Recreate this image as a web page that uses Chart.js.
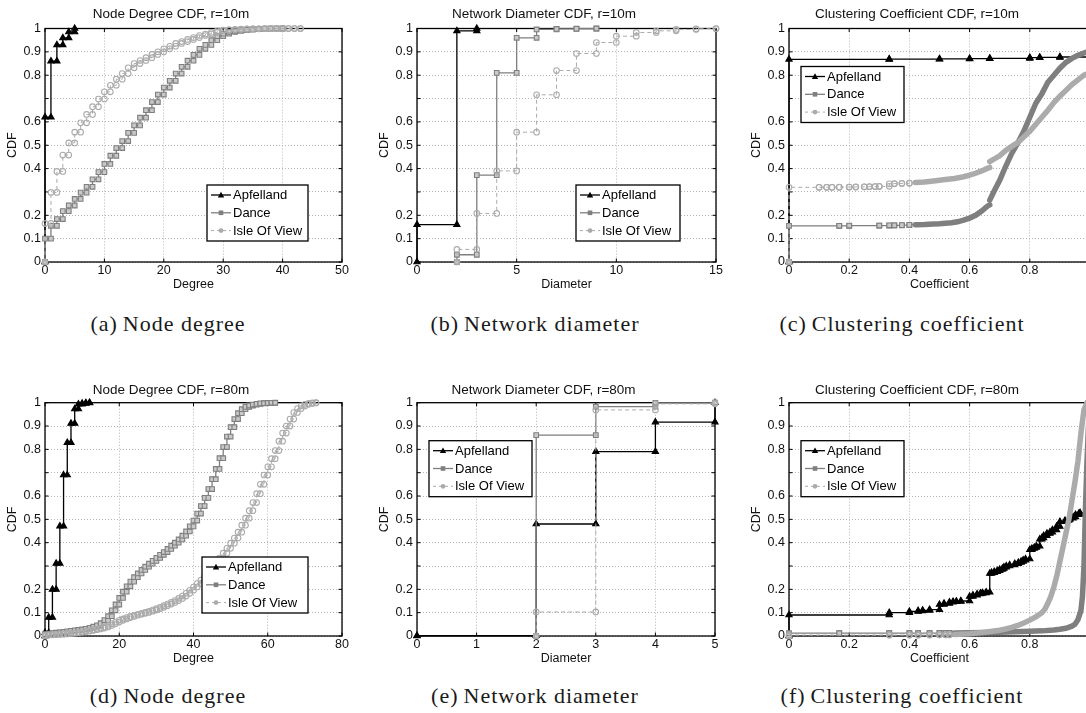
<!DOCTYPE html>
<html>
<head>
<meta charset="utf-8">
<script src="https://cdn.jsdelivr.net/npm/chart.js@4"></script>
<style>
  html, body { margin: 0; padding: 0; background: #fff; overflow: hidden; width: 1086px; height: 713px; }
  .panel { position: absolute; }
  .cap { position: absolute; font-family: 'Liberation Serif', 'Times New Roman', serif; font-size: 22px; color: #1a1a1a;
         white-space: nowrap; transform: translate(-50%, -50%); letter-spacing: 1px; word-spacing: 0px; }
  .cap b { font-weight: normal; margin-right: 5px; }
</style>
</head>
<body>
<div class="cap" style="left:168px; top:324px"><b>(a)</b>Node degree</div>
<div class="cap" style="left:535px; top:324px"><b>(b)</b>Network diameter</div>
<div class="cap" style="left:902px; top:324px"><b>(c)</b>Clustering coefficient</div>
<div class="cap" style="left:168px; top:696px"><b>(d)</b>Node degree</div>
<div class="cap" style="left:535px; top:696px"><b>(e)</b>Network diameter</div>
<div class="cap" style="left:902px; top:696px"><b>(f)</b>Clustering coefficient</div>
<script>
// ---------- Node degree CDF (array index = node degree) ----------
const deg10Apfelland = [0.62, 0.86, 0.93, 0.96, 0.985, 1];
const deg10Dance = [0.1, 0.155, 0.184, 0.218, 0.242, 0.27, 0.297, 0.322, 0.354, 0.385,
  0.42, 0.455, 0.488, 0.518, 0.553, 0.585, 0.618, 0.65, 0.685, 0.717,
  0.747, 0.776, 0.807, 0.836, 0.862, 0.887, 0.913, 0.93, 0.95, 0.967,
  0.978, 0.986, 0.99, 0.993, 0.995, 0.997, 0.998, 0.999, 0.9993, 0.9997, 1];
const deg10Isle = [0.165, 0.298, 0.388, 0.458, 0.51, 0.556, 0.596, 0.632, 0.665, 0.698,
  0.729, 0.757, 0.783, 0.807, 0.832, 0.85, 0.863, 0.875, 0.889, 0.9,
  0.913, 0.924, 0.936, 0.944, 0.953, 0.961, 0.97, 0.976, 0.983, 0.99,
  0.993, 0.995, 0.996, 0.997, 0.998, 0.9985, 0.999, 0.9992, 0.9994, 0.9996,
  0.9997, 0.9998, 0.9999, 1];

const deg80Apfelland = [0.014, 0.08, 0.2, 0.311, 0.471, 0.69, 0.829, 0.911, 0.973, 0.994, 0.997, 0.999, 1];
const deg80Dance = [0.008, 0.01, 0.012, 0.014, 0.016, 0.018, 0.02, 0.022, 0.024, 0.026,
  0.028, 0.031, 0.035, 0.04, 0.046, 0.055, 0.068, 0.085, 0.11, 0.135,
  0.163, 0.19, 0.213, 0.233, 0.252, 0.268, 0.283, 0.297, 0.31, 0.322,
  0.335, 0.348, 0.36, 0.373, 0.387, 0.4, 0.414, 0.43, 0.448, 0.47,
  0.495, 0.525, 0.557, 0.592, 0.63, 0.672, 0.716, 0.762, 0.81, 0.855,
  0.895, 0.93, 0.955, 0.972, 0.982, 0.988, 0.992, 0.995, 0.997, 0.998,
  0.999, 0.9995, 1];
const deg80Isle = [0.004, 0.005, 0.006, 0.007, 0.008, 0.009, 0.011, 0.012, 0.014, 0.016,
  0.018, 0.021, 0.024, 0.027, 0.03, 0.034, 0.039, 0.045, 0.052, 0.06,
  0.067, 0.073, 0.079, 0.084, 0.089, 0.093, 0.097, 0.101, 0.106, 0.111,
  0.117, 0.123, 0.13, 0.137, 0.144, 0.152, 0.161, 0.171, 0.183, 0.196,
  0.21, 0.225, 0.24, 0.257, 0.275, 0.294, 0.314, 0.334, 0.355, 0.376,
  0.398, 0.42, 0.445, 0.475, 0.505, 0.537, 0.572, 0.61, 0.65, 0.69,
  0.725, 0.76, 0.795, 0.835, 0.87, 0.9, 0.93, 0.958, 0.975, 0.986,
  0.993, 0.997, 0.999, 1];

// ---------- Network diameter CDF ----------
const diam10ApfellandX = [0, 2, 3];
const diam10ApfellandF = [0.16, 0.99, 1];
const diam10DanceX = [2, 3, 4, 5, 6, 7, 8, 9];
const diam10DanceF = [0.031, 0.372, 0.81, 0.96, 0.996, 0.998, 0.999, 1];
const diam10IsleX = [2, 3, 4, 5, 6, 7, 8, 9, 10, 11, 12, 13, 14, 15];
const diam10IsleF = [0.054, 0.208, 0.39, 0.556, 0.716, 0.82, 0.893, 0.94, 0.967, 0.983, 0.99, 0.996, 0.999, 1];

const diam80ApfellandX = [0, 2, 3, 4, 5];
const diam80ApfellandF = [0.001, 0.48, 0.79, 0.917, 1];
const diam80DanceX = [2, 3, 4, 5];
const diam80DanceF = [0.861, 0.983, 0.9995, 1];
const diam80IsleX = [2, 3, 4, 5];
const diam80IsleF = [0.103, 0.969, 0.995, 1];

// ---------- Clustering coefficient CDF (step part, then densely sampled part) ----------
const clu10ApfellandX = [0, 0.333, 0.5, 0.6, 0.667, 0.8, 0.833, 0.9, 1];
const clu10ApfellandF = [0.868, 0.869, 0.87, 0.871, 0.872, 0.875, 0.876, 0.878, 1];
const clu10DanceX = [0, 0.167, 0.2, 0.3, 0.333, 0.35, 0.375, 0.4];
const clu10DanceF = [0.155, 0.155, 0.156, 0.156, 0.157, 0.157, 0.158, 0.159];
const clu10DanceCurveX = [0.42, 0.45, 0.48, 0.5, 0.52, 0.54, 0.56, 0.58, 0.6, 0.62, 0.64, 0.66, 0.667, 0.667,
  0.68, 0.7, 0.72, 0.74, 0.76, 0.78, 0.8, 0.82, 0.84, 0.86, 0.88, 0.9, 0.92, 0.94, 0.96, 0.98, 0.99, 1, 1];
const clu10DanceCurveF = [0.16, 0.161, 0.163, 0.164, 0.166, 0.168, 0.172, 0.179, 0.188, 0.2, 0.218, 0.24, 0.245, 0.265,
  0.3, 0.35, 0.41, 0.465, 0.51, 0.56, 0.62, 0.68, 0.72, 0.77, 0.8, 0.83, 0.855, 0.872, 0.885, 0.895, 0.9, 0.902, 1];
const clu10IsleX = [0, 0.1, 0.125, 0.143, 0.167, 0.2, 0.222, 0.25, 0.267, 0.286, 0.3, 0.333, 0.35, 0.375, 0.4];
const clu10IsleF = [0.32, 0.32, 0.32, 0.32, 0.321, 0.321, 0.322, 0.322, 0.323, 0.323, 0.324, 0.335, 0.336, 0.337, 0.338];
const clu10IsleCurveX = [0.42, 0.45, 0.48, 0.5, 0.52, 0.55, 0.58, 0.6, 0.62, 0.64, 0.66, 0.667, 0.667,
  0.68, 0.7, 0.72, 0.74, 0.76, 0.78, 0.8, 0.82, 0.84, 0.86, 0.88, 0.9, 0.92, 0.94, 0.96, 0.98, 0.99, 1, 1];
const clu10IsleCurveF = [0.34, 0.343, 0.347, 0.35, 0.353, 0.358, 0.365, 0.372, 0.38, 0.39, 0.402, 0.404, 0.43,
  0.44, 0.455, 0.478, 0.495, 0.512, 0.535, 0.56, 0.59, 0.62, 0.65, 0.683, 0.71, 0.735, 0.76, 0.78, 0.8, 0.805, 0.807, 1];

const clu80ApfellandX = [0, 0.333, 0.4, 0.429, 0.444, 0.467, 0.5, 0.515, 0.533, 0.545, 0.556, 0.571,
  0.6, 0.611, 0.625, 0.636, 0.643, 0.655, 0.667, 0.673, 0.682, 0.692, 0.7, 0.709, 0.714, 0.722,
  0.733, 0.75, 0.762, 0.771, 0.778, 0.786, 0.8, 0.807, 0.815, 0.822, 0.833, 0.84, 0.846, 0.857,
  0.867, 0.875, 0.889, 0.9, 0.917, 0.929, 0.933, 0.944, 0.952, 0.963, 0.967, 1];
const clu80ApfellandF = [0.09, 0.1, 0.105, 0.108, 0.11, 0.113, 0.135, 0.14, 0.145, 0.147, 0.148, 0.15,
  0.17, 0.175, 0.18, 0.183, 0.185, 0.188, 0.268, 0.272, 0.276, 0.28, 0.285, 0.29, 0.295, 0.3,
  0.305, 0.31, 0.315, 0.32, 0.325, 0.33, 0.37, 0.375, 0.38, 0.385, 0.415, 0.42, 0.43, 0.44,
  0.445, 0.455, 0.47, 0.49, 0.495, 0.5, 0.505, 0.51, 0.52, 0.525, 0.528, 1];
const clu80DanceX = [0, 0.167, 0.333, 0.4, 0.429, 0.467, 0.5, 0.52, 0.533];
const clu80DanceF = [0.012, 0.012, 0.012, 0.012, 0.012, 0.012, 0.013, 0.013, 0.013];
const clu80DanceCurveX = [0.55, 0.6, 0.65, 0.7, 0.75, 0.8, 0.84, 0.88, 0.9, 0.92, 0.94, 0.95, 0.96, 0.97,
  0.975, 0.98, 0.985, 0.99, 0.995, 1];
const clu80DanceCurveF = [0.013, 0.014, 0.015, 0.016, 0.018, 0.02, 0.022, 0.026, 0.029, 0.033, 0.042, 0.05, 0.07, 0.11,
  0.17, 0.3, 0.55, 0.75, 0.9, 1];
const clu80IsleX = [0, 0.333, 0.4, 0.429, 0.467, 0.5, 0.52, 0.533];
const clu80IsleF = [0.004, 0.004, 0.004, 0.004, 0.005, 0.005, 0.005, 0.005];
const clu80IsleCurveX = [0.55, 0.6, 0.65, 0.7, 0.72, 0.74, 0.76, 0.78, 0.8, 0.82, 0.84, 0.85, 0.86, 0.87,
  0.88, 0.89, 0.9, 0.91, 0.92, 0.93, 0.94, 0.95, 0.96, 0.97, 0.98, 0.99, 1];
const clu80IsleCurveF = [0.006, 0.01, 0.016, 0.025, 0.03, 0.037, 0.045, 0.056, 0.068, 0.082, 0.1, 0.115, 0.14, 0.17,
  0.21, 0.26, 0.32, 0.38, 0.44, 0.5, 0.58, 0.66, 0.75, 0.87, 0.97, 1, 1];

// ---------- Axis ticks ----------
const yTickValues = [0, 0.1, 0.2, 0.3, 0.4, 0.5, 0.6, 0.7, 0.8, 0.9, 1];
const yTickLabels = ['0', '0.1', '0.2', '', '0.4', '0.5', '0.6', '', '0.8', '0.9', '1'];
const xTicksDegree10 = [0, 10, 20, 30, 40, 50];
const xTicksDegree80 = [0, 20, 40, 60, 80];
const xTicksDiameter10 = [0, 5, 10, 15];
const xTicksDiameter80 = [0, 1, 2, 3, 4, 5];
const xTicksCoefficient = [0, 0.2, 0.4, 0.6, 0.8, 1];

const seriesNames = ['Apfelland', 'Dance', 'Isle Of View'];

// ---------- helpers ----------
const SANS = "'Liberation Sans', Arial, Helvetica, sans-serif";
const STYLE = {
  'Apfelland':    { color: '#000000', width: 1.3, dash: [],     point: 'triangle', radius: 3.6, fill: '#000000',              order: 2 },
  'Dance':        { color: '#7f7f7f', width: 1.3, dash: [],     point: 'rect',     radius: 3.3, fill: '#c9c9c9',              order: 1 },
  'Isle Of View': { color: '#ababab', width: 1.0, dash: [4, 3], point: 'circle',   radius: 2.8, fill: 'rgba(255,255,255,0)', order: 0 }
};

// empirical CDF drawn as a staircase: corner points at every step
function stairs(xs, fs) {
  const pts = [{ x: xs[0], y: 0 }];
  for (let i = 0; i < xs.length; i++) {
    if (i > 0) pts.push({ x: xs[i], y: fs[i - 1] });
    pts.push({ x: xs[i], y: fs[i] });
  }
  return pts;
}
function byIndex(fs) { return fs.map((_, i) => i); }
function curve(xs, fs) { return xs.map((x, i) => ({ x: x, y: fs[i], dense: true })); }

function makeDataset(label, pts) {
  const s = STYLE[label];
  const dense = i => !!(pts[i] && pts[i].dense);
  const bothDense = c => dense(c.p0DataIndex) && dense(c.p1DataIndex);
  return {
    label: label, data: pts, order: s.order,
    borderColor: s.color, borderWidth: s.width, borderDash: s.dash,
    pointStyle: s.point,
    pointRadius: c => dense(c.dataIndex) ? 0 : s.radius,
    pointHoverRadius: 0,
    pointBorderColor: s.color, pointBackgroundColor: s.fill, pointBorderWidth: 1.1,
    fill: false, tension: 0, clip: false,
    segment: {
      borderWidth: c => (bothDense(c) && pts[c.p0DataIndex].x !== pts[c.p1DataIndex].x) ? 5.5 : s.width,
      borderDash: c => bothDense(c) ? [] : s.dash,
      borderCapStyle: c => bothDense(c) ? 'round' : 'butt'
    }
  };
}

// axes box with inward tick marks on all four sides
const axesBox = {
  id: 'axesBox',
  beforeDatasetsDraw(chart) {
    const { ctx, chartArea: a, scales } = chart;
    const seg = (x1, y1, x2, y2) => { ctx.beginPath(); ctx.moveTo(x1, y1); ctx.lineTo(x2, y2); ctx.stroke(); };
    ctx.save();
    ctx.strokeStyle = '#000';
    ctx.lineWidth = 1;
    const L = 3.5;
    scales.y.ticks.forEach(t => {
      const p = scales.y.getPixelForValue(t.value);
      seg(a.left, p, a.left + L, p); seg(a.right, p, a.right - L, p);
    });
    scales.x.ticks.forEach(t => {
      const p = scales.x.getPixelForValue(t.value);
      seg(p, a.bottom, p, a.bottom - L); seg(p, a.top, p, a.top + L);
    });
    ctx.lineWidth = 1.3;
    ctx.strokeRect(a.left, a.top, a.right - a.left, a.bottom - a.top);
    ctx.restore();
  }
};

// boxed legend placed inside the axes
const boxLegend = {
  id: 'boxLegend',
  afterDraw(chart, args, o) {
    const { ctx, chartArea: a } = chart;
    const w = o.w, h = 56;
    const x0 = o.anchor === 'br' ? a.right - o.dx - w : a.left + o.dx;
    const y0 = o.anchor === 'br' ? a.bottom - o.dy - h : a.top + o.dy;
    ctx.save();
    ctx.fillStyle = '#fff';
    ctx.fillRect(x0, y0, w, h);
    ctx.strokeStyle = '#000'; ctx.lineWidth = 1.3;
    ctx.strokeRect(x0, y0, w, h);
    chart.data.datasets.forEach((ds, i) => {
      const s = STYLE[ds.label];
      const cy = y0 + 10 + i * 17.8;
      const mx = x0 + 14;
      ctx.strokeStyle = s.color; ctx.lineWidth = s.width; ctx.setLineDash(s.dash.length ? [3, 3] : []);
      ctx.beginPath(); ctx.moveTo(x0 + 4, cy); ctx.lineTo(x0 + 24, cy); ctx.stroke();
      ctx.setLineDash([]);
      ctx.fillStyle = s.color;
      ctx.beginPath();
      if (s.point === 'triangle') { ctx.moveTo(mx, cy - 3.2); ctx.lineTo(mx + 3.2, cy + 2.4); ctx.lineTo(mx - 3.2, cy + 2.4); ctx.closePath(); }
      else if (s.point === 'rect') { ctx.rect(mx - 2.3, cy - 2.3, 4.6, 4.6); }
      else { ctx.arc(mx, cy, 2.4, 0, Math.PI * 2); }
      ctx.fill();
      ctx.fillStyle = '#000';
      ctx.font = '13px ' + SANS;
      ctx.textBaseline = 'middle';
      ctx.fillText(ds.label, x0 + 26, cy + 0.5);
    });
    ctx.restore();
  }
};

function buildPanel(p) {
  const left = p.area[0] - 45, top = p.rowTop;
  const width = p.area[2] + 20 - left, height = p.area[3] + 38 - top;
  const div = document.createElement('div');
  div.className = 'panel';
  div.style.left = left + 'px'; div.style.top = top + 'px';
  const cv = document.createElement('canvas');
  cv.width = width; cv.height = height;
  cv.style.width = width + 'px'; cv.style.height = height + 'px';
  div.appendChild(cv);
  document.body.appendChild(div);

  const tickFont = { family: SANS, size: 12.5 };
  new Chart(cv, {
    type: 'line',
    data: { datasets: p.datasets },
    plugins: [axesBox, boxLegend],
    options: {
      responsive: false, animation: false, events: [],
      devicePixelRatio: 1,
      layout: { padding: { left: 0, top: 0, right: 20, bottom: 0 } },
      scales: {
        x: {
          type: 'linear', position: 'bottom', min: p.xMin, max: p.xMax,
          afterBuildTicks: sc => { sc.ticks = p.xTicks.map(v => ({ value: v })); },
          afterFit: sc => { sc.height = 38; },
          ticks: { font: tickFont, color: '#111', padding: 1, maxRotation: 0, autoSkip: false,
                   callback: v => String(v) },
          grid: { color: '#b4b4b4', lineWidth: 1, drawTicks: false },
          border: { display: false, dash: [1, 2] },
          title: { display: true, text: p.xTitle, font: { family: SANS, size: 12.5 }, color: '#111',
                   padding: { top: 0, bottom: 7.5 } }
        },
        y: {
          type: 'linear', position: 'left', min: 0, max: 1,
          afterBuildTicks: sc => { sc.ticks = yTickValues.map(v => ({ value: v })); },
          afterFit: sc => { sc.width = 45; },
          ticks: { font: tickFont, color: '#111', padding: 4, autoSkip: false,
                   callback: (v, i) => yTickLabels[i] },
          grid: { color: '#b4b4b4', lineWidth: 1, drawTicks: false },
          border: { display: false, dash: [1, 2] },
          title: { display: true, text: 'CDF', font: { family: SANS, size: 12.5 }, color: '#111',
                   padding: { top: 5.5, bottom: 0 } }
        }
      },
      plugins: {
        legend: { display: false },
        tooltip: { enabled: false },
        title: { display: true, text: p.title, color: '#111',
                 font: { family: SANS, size: 13.5, weight: 'normal', lineHeight: 1.2 },
                 padding: p.titlePad },
        boxLegend: p.legend
      }
    }
  });
}

const TOP = { rowTop: 0, titlePad: { top: 5.9, bottom: 6.4 } };
const BOT = { rowTop: 374, titlePad: { top: 7.9, bottom: 4.6 } };

const panels = [
  Object.assign({}, TOP, {
    area: [45, 28.5, 342, 262], title: 'Node Degree CDF, r=10m', xTitle: 'Degree',
    xMin: 0, xMax: 50, xTicks: xTicksDegree10, legend: { anchor: 'br', dx: 34, dy: 21, w: 101 },
    datasets: [
      makeDataset(seriesNames[0], stairs(byIndex(deg10Apfelland), deg10Apfelland)),
      makeDataset(seriesNames[1], stairs(byIndex(deg10Dance), deg10Dance)),
      makeDataset(seriesNames[2], stairs(byIndex(deg10Isle), deg10Isle))
    ]
  }),
  Object.assign({}, TOP, {
    area: [417, 28.5, 716, 262], title: 'Network Diameter CDF, r=10m', xTitle: 'Diameter',
    xMin: 0, xMax: 15, xTicks: xTicksDiameter10, legend: { anchor: 'br', dx: 36, dy: 21, w: 104 },
    datasets: [
      makeDataset(seriesNames[0], stairs(diam10ApfellandX, diam10ApfellandF)),
      makeDataset(seriesNames[1], stairs(diam10DanceX, diam10DanceF)),
      makeDataset(seriesNames[2], stairs(diam10IsleX, diam10IsleF))
    ]
  }),
  Object.assign({}, TOP, {
    area: [789, 28.5, 1090, 262], title: 'Clustering Coefficient CDF, r=10m', xTitle: 'Coefficient',
    xMin: 0, xMax: 1, xTicks: xTicksCoefficient, legend: { anchor: 'tl', dx: 12, dy: 38, w: 103 },
    datasets: [
      makeDataset(seriesNames[0], stairs(clu10ApfellandX, clu10ApfellandF)),
      makeDataset(seriesNames[1], stairs(clu10DanceX, clu10DanceF).concat(curve(clu10DanceCurveX, clu10DanceCurveF))),
      makeDataset(seriesNames[2], stairs(clu10IsleX, clu10IsleF).concat(curve(clu10IsleCurveX, clu10IsleCurveF)))
    ]
  }),
  Object.assign({}, BOT, {
    area: [45, 402.7, 342, 636], title: 'Node Degree CDF, r=80m', xTitle: 'Degree',
    xMin: 0, xMax: 80, xTicks: xTicksDegree80, legend: { anchor: 'br', dx: 34, dy: 23, w: 106 },
    datasets: [
      makeDataset(seriesNames[0], stairs(byIndex(deg80Apfelland), deg80Apfelland)),
      makeDataset(seriesNames[1], stairs(byIndex(deg80Dance), deg80Dance)),
      makeDataset(seriesNames[2], stairs(byIndex(deg80Isle), deg80Isle))
    ]
  }),
  Object.assign({}, BOT, {
    area: [417, 402.7, 715, 636], title: 'Network Diameter CDF, r=80m', xTitle: 'Diameter',
    xMin: 0, xMax: 5, xTicks: xTicksDiameter80, legend: { anchor: 'tl', dx: 12, dy: 38, w: 103 },
    datasets: [
      makeDataset(seriesNames[0], stairs(diam80ApfellandX, diam80ApfellandF)),
      makeDataset(seriesNames[1], stairs(diam80DanceX, diam80DanceF)),
      makeDataset(seriesNames[2], stairs(diam80IsleX, diam80IsleF))
    ]
  }),
  Object.assign({}, BOT, {
    area: [789, 402.7, 1090, 636], title: 'Clustering Coefficient CDF, r=80m', xTitle: 'Coefficient',
    xMin: 0, xMax: 1, xTicks: xTicksCoefficient, legend: { anchor: 'tl', dx: 12, dy: 38, w: 103 },
    datasets: [
      makeDataset(seriesNames[0], stairs(clu80ApfellandX, clu80ApfellandF)),
      makeDataset(seriesNames[1], stairs(clu80DanceX, clu80DanceF).concat(curve(clu80DanceCurveX, clu80DanceCurveF))),
      makeDataset(seriesNames[2], stairs(clu80IsleX, clu80IsleF).concat(curve(clu80IsleCurveX, clu80IsleCurveF)))
    ]
  })
];

panels.forEach(buildPanel);
</script>
</body>
</html>
